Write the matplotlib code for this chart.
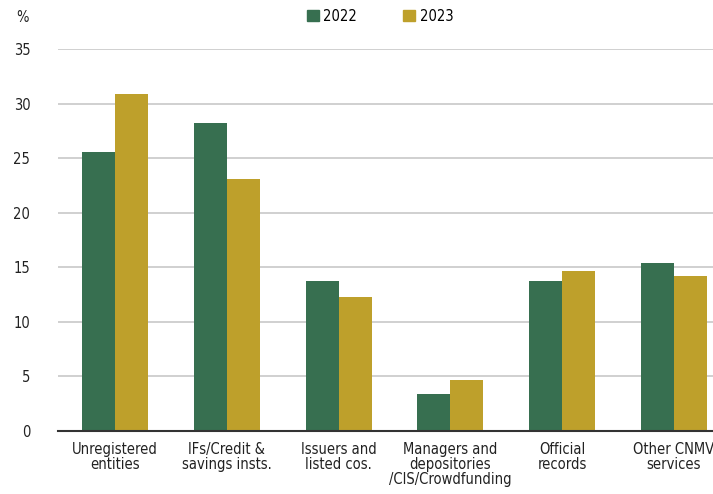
import numpy as np
import matplotlib.pyplot as plt
from matplotlib.patches import Patch

categories = ['Unregistered\nentities', 'IFs/Credit &\nsavings insts.', 'Issuers and\nlisted cos.',
              'Managers and\ndepositories\n/CIS/Crowdfunding', 'Official\nrecords', 'Other CNMV\nservices']
vals_2022 = [25.6, 28.2, 13.7, 3.4, 13.7, 15.4]
vals_2023 = [30.9, 23.1, 12.3, 4.7, 14.7, 14.2]

green = '#376f50'
gold = '#bea02b'

plt.rcParams['font.family'] = ['DejaVu Sans']
plt.rcParams['font.stretch'] = 'condensed'

fig = plt.figure(figsize=(7.13, 4.94), dpi=100)
ax = fig.add_axes([0.0813, 0.1275, 0.9187, 0.7733])

x = np.arange(len(categories))
w = 0.295
ax.bar(x - w/2, vals_2022, w, color=green, zorder=3)
ax.bar(x + w/2, vals_2023, w, color=gold, zorder=3)

ax.set_ylim(0, 35)
ax.set_xlim(-0.51, 5.35)
ax.set_yticks(range(0, 36, 5))
ax.yaxis.grid(True, color='#c8c8c8', linewidth=1.2, zorder=0)
for s in ['top', 'right', 'left']:
    ax.spines[s].set_visible(False)
ax.spines['bottom'].set_color('#333333')
ax.spines['bottom'].set_linewidth(1.5)
ax.spines['bottom'].set_zorder(4)
ax.tick_params(axis='y', length=0, pad=20, labelsize=10.5, colors='#222222')
ax.tick_params(axis='x', length=0, pad=8, labelsize=10.5, colors='#222222')
ax.set_xticks(x)
ax.set_xticklabels(categories, linespacing=1.0)
ax.get_xticklabels()[-1].set_x(5 - 0.08)

fig.text(0.032, 0.965, '%', fontsize=10.5, color='#222222', va='center', ha='center')
handles = [Patch(color=green, label='2022'), Patch(color=gold, label='2023')]
fig.legend(handles=handles, loc='center', bbox_to_anchor=(0.533, 0.967), ncol=2, frameon=False,
           fontsize=10.5, handlelength=0.8, handleheight=0.8, handletextpad=0.3, columnspacing=3.2)

fig.savefig('out.png', dpi=100)
